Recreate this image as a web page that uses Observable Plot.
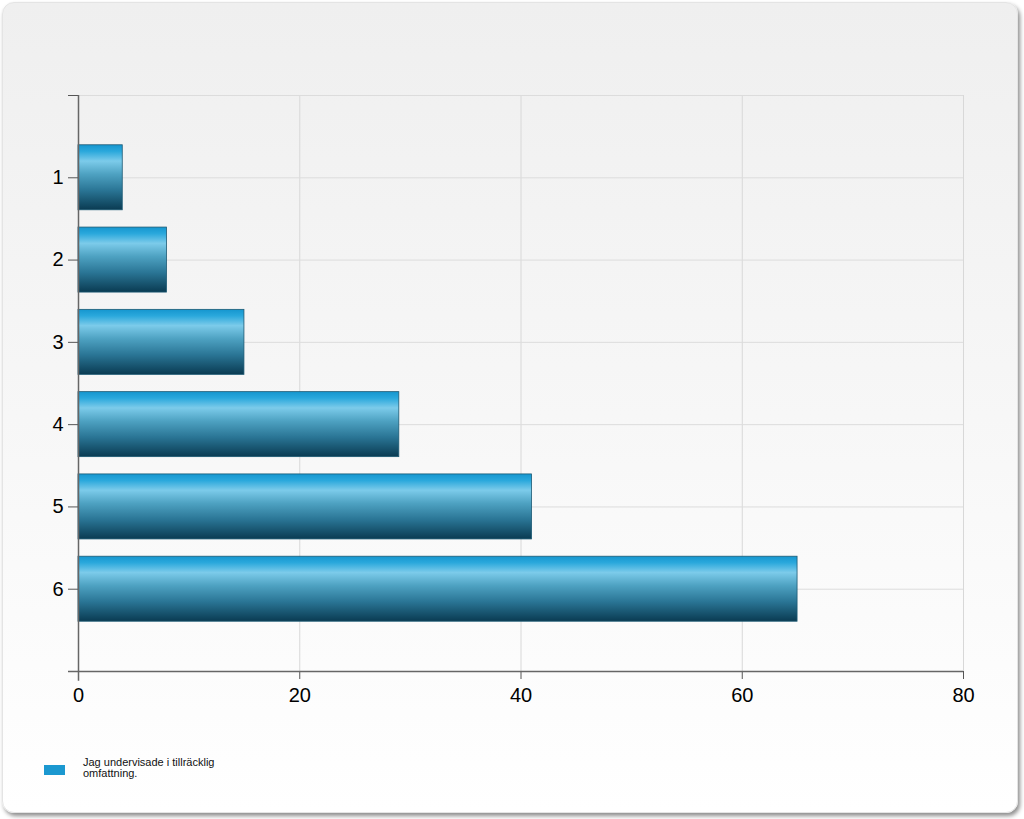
<!DOCTYPE html>
<html>
<head>
<meta charset="utf-8">
<script src="https://cdn.jsdelivr.net/npm/d3@7"></script>
<script src="https://cdn.jsdelivr.net/npm/@observablehq/plot@0.6"></script>
<style>
  html, body { margin: 0; padding: 0; background: #ffffff; }
  body { width: 1024px; height: 819px; position: relative; overflow: hidden; font-family: "Liberation Sans", Arial, sans-serif; }
  #card {
    position: absolute; left: 2px; top: 2px; width: 1014px; height: 809px;
    border-radius: 12px;
    background: linear-gradient(to bottom, #efefef 0%, #f6f6f6 45%, #ffffff 100%);
    box-shadow: 2px 3px 4px rgba(0,0,0,0.45);
    border: 1px solid #e4e4e4;
  }
  #chart { position: absolute; left: 0; top: 0; }
  #legend { position: absolute; left: 44px; top: 757px; display: flex; align-items: flex-start; }
  #legend .sw { width: 21px; height: 10px; background: #1b98d0; margin-top: 8px; }
  #legend .lbl { margin-left: 18px; font-size: 11px; line-height: 11px; color: #111; width: 160px; }
</style>
</head>
<body>
<div id="card"></div>
<div id="chart"></div>
<div id="legend"><div class="sw"></div><div class="lbl">Jag undervisade i tillräcklig omfattning.</div></div>
<script>
const categories = [1, 2, 3, 4, 5, 6];
const values = [4, 8, 15, 29, 41, 65];
const xTicks = [0, 20, 40, 60, 80];
const seriesName = "Jag undervisade i tillräcklig omfattning.";

const data = categories.map((c, i) => ({cat: c, value: values[i]}));
const half = 0.395;

const plot = Plot.plot({
  width: 1024,
  height: 740,
  marginLeft: 78,
  marginRight: 61,
  marginTop: 95,
  marginBottom: 69,
  style: {background: "transparent", fontFamily: "'Liberation Sans', Arial, sans-serif", fontSize: "20px", color: "#000"},
  x: {domain: [0, 80], ticks: xTicks},
  y: {domain: [0, 7], reverse: true, ticks: [0, 1, 2, 3, 4, 5, 6, 7]},
  marks: [
    Plot.gridX(xTicks.slice(1), {stroke: "#d8d8d8", strokeOpacity: 1}),
    Plot.gridY(categories, {stroke: "#dcdcdc", strokeOpacity: 1}),
    Plot.ruleY([0], {stroke: "#dcdcdc"}),
    Plot.rectX(data, {
      x1: 0, x2: "value",
      y1: d => d.cat - half, y2: d => d.cat + half,
      fill: "url(#barGrad)", stroke: "#1d5a74", strokeWidth: 0.8
    }),
    Plot.axisX({ticks: xTicks, tickSize: 8, tickPadding: 8, stroke: "#555", label: null, fontSize: 20}),
    Plot.axisY({ticks: [0,1,2,3,4,5,6,7], tickSize: 10, tickPadding: 5, tickFormat: d => (d >= 1 && d <= 6) ? String(d) : "", stroke: "#555", label: null, fontSize: 20}),
    Plot.ruleY([7], {x1: -0.9, x2: 80, stroke: "#666", strokeWidth: 1.5}),
    Plot.ruleX([0], {y1: 0, y2: 7.12, stroke: "#666", strokeWidth: 1.5})
  ]
});

const svg = d3.select(plot);
svg.selectAll("g[aria-label='x-axis tick label'], g[aria-label='y-axis tick label']")
  .attr("font-size", 20).style("font-size", "20px");
const defs = svg.insert("defs", ":first-child");
const g = defs.append("linearGradient").attr("id", "barGrad")
  .attr("x1", 0).attr("y1", 0).attr("x2", 0).attr("y2", 1);
[
  [0, "#1596cf"], [0.1, "#2aa8dc"], [0.25, "#7ccbea"], [0.45, "#4ea2c2"],
  [0.7, "#2a7595"], [1, "#0a3b52"]
].forEach(([o, c]) => g.append("stop").attr("offset", o).attr("stop-color", c));

document.getElementById("chart").appendChild(plot);
</script>
</body>
</html>
